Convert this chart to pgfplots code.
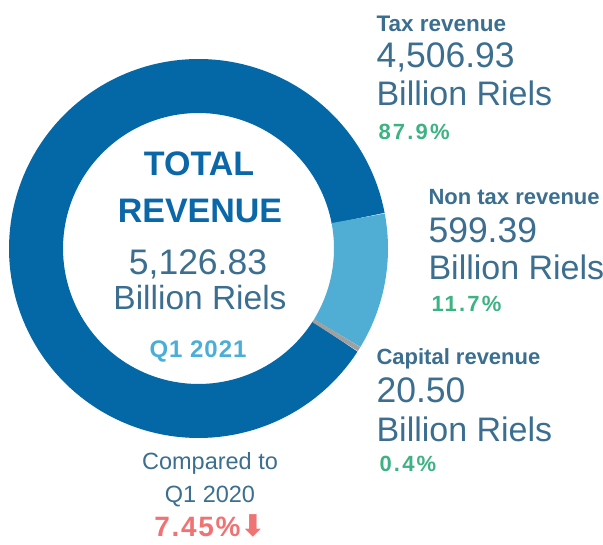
\documentclass[border=0pt]{standalone}
\usepackage{pgfplots}
\pgfplotsset{compat=1.18}
\usepackage{fontspec}
\setmainfont{Liberation Sans}
\newfontfamily\symfont{DejaVu Sans}
\definecolor{darkblue}{HTML}{0468A6}
\definecolor{lightblue}{HTML}{50AED4}
\definecolor{capgray}{HTML}{A0A0A0}
\definecolor{txt}{HTML}{3B6E8F}
\definecolor{pctgreen}{HTML}{3DB282}
\definecolor{pctred}{HTML}{F07373}
\definecolor{qblue}{HTML}{4BAED6}
\definecolor{titleblue}{HTML}{0A67A8}
% revenue values (billion riels)
\def\vTax{4506.93}
\def\vNon{599.39}
\def\vCap{20.50}
\newcommand\fs[1]{\fontsize{#1bp}{#1bp}\selectfont}
\begin{document}
\begin{tikzpicture}
\pgfmathsetmacro{\tot}{\vTax+\vNon+\vCap}
\pgfmathsetmacro{\aStart}{10.7}
\pgfmathsetmacro{\aNon}{\aStart-360*(\vNon/\tot)}
\pgfmathsetmacro{\aCap}{\aNon-360*(\vCap/\tot)}
\pgfmathsetmacro{\aTax}{\aStart+360*(\vTax/\tot)}
\begin{axis}[width=603bp,height=545bp,scale only axis,
  xmin=0,xmax=603,ymin=0,ymax=545,hide axis,clip=false,
  every node/.style={inner sep=0pt,outer sep=0pt}]
\coordinate (BL) at (axis cs:0,0);
\coordinate (TR) at (axis cs:603,545);
\addplot[no markers,domain=\aStart:\aTax,samples=150,line width=54bp,draw=darkblue,line cap=butt,line join=round]
  ({198.5+162.5*cos(x)},{296.5+162.5*sin(x)});
\addplot[no markers,domain=\aNon:\aStart,samples=40,line width=54bp,draw=lightblue,line cap=butt,line join=round]
  ({198.5+162.5*cos(x)},{296.5+162.5*sin(x)});
\addplot[no markers,domain=\aCap:\aNon,samples=5,line width=54bp,draw=capgray,line cap=butt,line join=round]
  ({198.5+162.5*cos(x)},{296.5+162.5*sin(x)});
% centre
\node[anchor=base,text=titleblue,font=\bfseries\fs{34}] at (axis cs:199,369) {TOTAL};
\node[anchor=base,text=titleblue,font=\bfseries\fs{34}] at (axis cs:200,322) {REVENUE};
\node[anchor=base,text=txt,font=\fs{35.5}] at (axis cs:198,270) {5,126.83};
\node[anchor=base,text=txt,font=\fs{33.5}] at (axis cs:200,235) {Billion Riels};
\node[anchor=base,text=qblue,font=\bfseries\fs{24}\addfontfeatures{LetterSpace=4}] at (axis cs:198,187) {Q1 2021};
% tax
\node[anchor=base west,text=txt,font=\bfseries\fs{22.5}] at (axis cs:373,513) {Tax revenue};
\node[anchor=base west,text=txt,font=\fs{35.5}] at (axis cs:373,477) {4,506.93};
\node[anchor=base west,text=txt,font=\fs{34}] at (axis cs:373,439) {Billion Riels};
\node[anchor=base west,text=pctgreen,font=\bfseries\fs{22}\addfontfeatures{LetterSpace=10}] at (axis cs:375,405) {87.9\%};
% non tax
\node[anchor=base west,text=txt,font=\bfseries\fs{22}] at (axis cs:425,340) {Non tax revenue};
\node[anchor=base west,text=txt,font=\fs{35.5}] at (axis cs:425,302) {599.39};
\node[anchor=base west,text=txt,font=\fs{34}] at (axis cs:425,265) {Billion Riels};
\node[anchor=base west,text=pctgreen,font=\bfseries\fs{22}\addfontfeatures{LetterSpace=10}] at (axis cs:428,233) {11.7\%};
% capital
\node[anchor=base west,text=txt,font=\bfseries\fs{22}] at (axis cs:373,180) {Capital revenue};
\node[anchor=base west,text=txt,font=\fs{35.5}] at (axis cs:373,142) {20.50};
\node[anchor=base west,text=txt,font=\fs{34}] at (axis cs:373,103) {Billion Riels};
\node[anchor=base west,text=pctgreen,font=\bfseries\fs{22}\addfontfeatures{LetterSpace=10}] at (axis cs:376,73) {0.4\%};
% comparison
\node[anchor=base,text=txt,font=\fs{23.5}] at (axis cs:210,75) {Compared to};
\node[anchor=base,text=txt,font=\fs{23.5}] at (axis cs:210,42) {Q1 2020};
\node[anchor=base,text=pctred,font=\bfseries\fs{28}] at (axis cs:210,8) {{\addfontfeatures{LetterSpace=6}7.45\%}{\symfont\bfseries\fs{30}⬇}};
\end{axis}
\pgfresetboundingbox
\path[use as bounding box] (BL) rectangle (TR);
\end{tikzpicture}
\end{document}
